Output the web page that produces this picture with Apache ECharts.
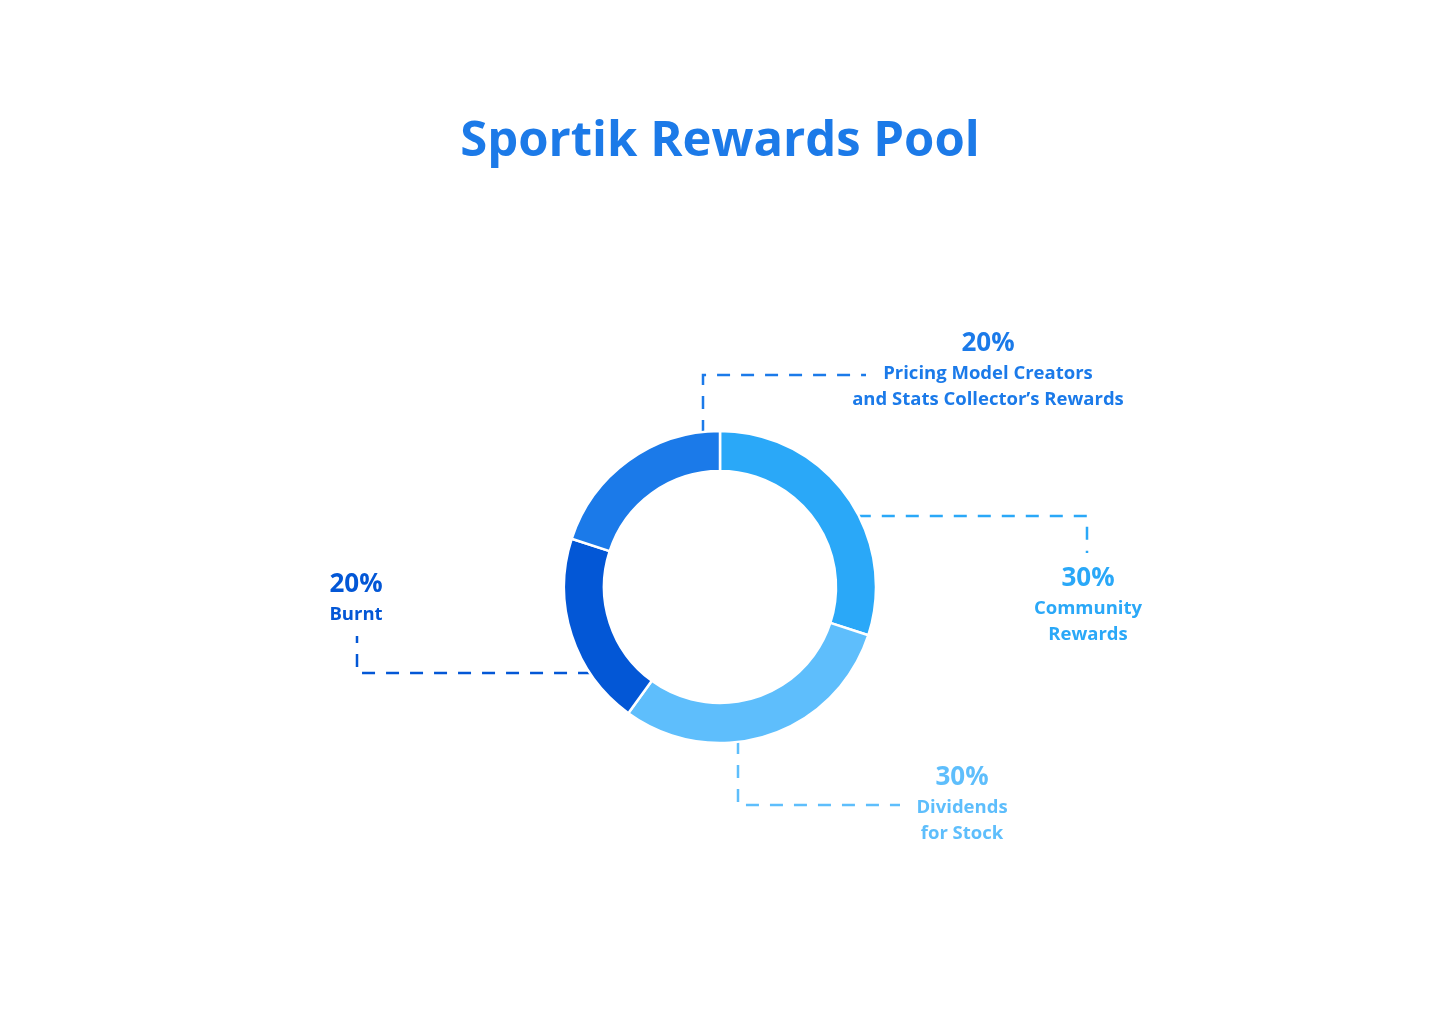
<!DOCTYPE html>
<html>
<head>
<meta charset="utf-8">
<script src="https://cdn.jsdelivr.net/npm/echarts@6/dist/echarts.min.js"></script>
<style>
  html, body { margin: 0; padding: 0; background: #ffffff; }
  #chart { width: 1440px; height: 1024px; }
</style>
</head>
<body>
<div id="chart"></div>
<script>
// ---- data ----
const titleText = 'Sportik Rewards Pool';
const categories = ['Community\nRewards', 'Dividends\nfor Stock', 'Burnt', 'Pricing Model Creators\nand Stats Collector’s Rewards'];
const values = [30, 30, 20, 20];

// ---- styling / layout ----
const colors = ['#2AA8F8', '#5EBEFC', '#0357D6', '#1B7AE9'];
const CX = 720, CY = 587, R_IN = 116, R_OUT = 156, R_EDGE = 155;
const FONT = '"Open Sans", Lato, sans-serif';
// label block: dx = center x offset, top = block top offset (relative to center)
// connector: dir 'h' leaves ring horizontally at offset `at`, turns at `turn`, ends at `end`
const labelPlace = [
  { dx: 368, top: -25, dir: 'h', at: -71, turn: 367, end: -34 },
  { dx: 242, top: 174, dir: 'v', at: 18, turn: 218, end: 180 },
  { dx: -364, top: -19, dir: 'h', at: 86, turn: -363, end: 49 },
  { dx: 268, top: -260, dir: 'v', at: -17, turn: -212, end: 146 }
];

function connector(p) {
  if (p.dir === 'h') {
    const y = CY + p.at;
    const sx = CX + Math.sign(p.turn) * Math.sqrt(R_EDGE * R_EDGE - p.at * p.at);
    return [[sx, y], [CX + p.turn, y], [CX + p.turn, CY + p.end]];
  } else {
    const x = CX + p.at;
    const sy = CY + Math.sign(p.turn) * Math.sqrt(R_EDGE * R_EDGE - p.at * p.at);
    return [[x, sy], [x, CY + p.turn], [CX + p.end, CY + p.turn]];
  }
}

const chart = echarts.init(document.getElementById('chart'), null, { renderer: 'canvas' });

const option = {
  backgroundColor: '#ffffff',
  animation: false,
  title: {
    text: titleText,
    left: 'center',
    top: 113,
    textStyle: { fontFamily: FONT, fontSize: 49, fontWeight: 'bold', color: '#1C7AE8' }
  },
  series: [{
    type: 'pie',
    center: [CX, CY],
    radius: [R_IN, R_OUT],
    startAngle: 90,
    clockwise: true,
    avoidLabelOverlap: false,
    itemStyle: { borderColor: '#ffffff', borderWidth: 2.5 },
    data: categories.map((name, i) => ({
      name: name,
      value: values[i],
      itemStyle: { color: colors[i] },
      label: { color: colors[i] },
      labelLine: { lineStyle: { color: colors[i] } }
    })),
    label: {
      show: true,
      position: 'outside',
      fontFamily: FONT,
      formatter: function (p) {
        const lines = p.name.split('\n').map(s => '{n|' + s + '}');
        return '{p|' + p.value + '%}\n' + lines.join('\n');
      },
      rich: {
        p: { fontFamily: FONT, fontSize: 26, fontWeight: 'bold', lineHeight: 34, align: 'center' },
        n: { fontFamily: FONT, fontSize: 18.5, fontWeight: 'bold', lineHeight: 26, align: 'center' }
      }
    },
    labelLine: {
      show: true,
      length: 10,
      length2: 10,
      lineStyle: { width: 2.5, type: [13, 11] }
    },
    labelLayout: function (params) {
      const p = labelPlace[params.dataIndex];
      return {
        x: CX + p.dx,
        y: CY + p.top,
        align: 'center',
        verticalAlign: 'top',
        labelLinePoints: connector(p)
      };
    }
  }]
};

chart.setOption(option);
</script>
</body>
</html>
